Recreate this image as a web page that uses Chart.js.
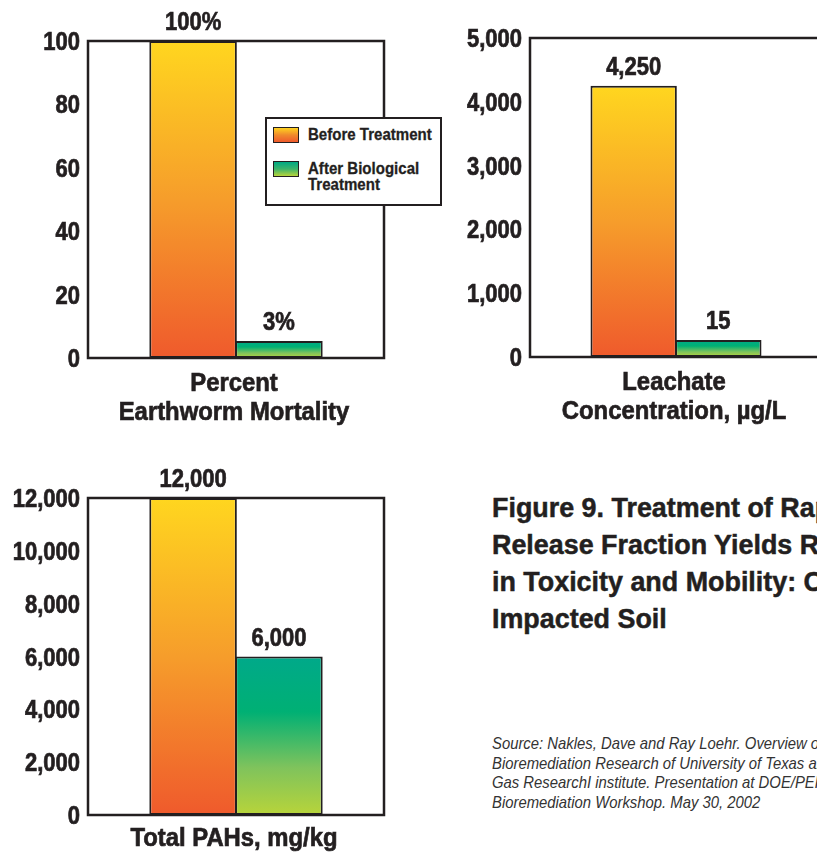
<!DOCTYPE html>
<html>
<head>
<meta charset="utf-8">
<script src="https://cdn.jsdelivr.net/npm/chart.js@4.4.1/dist/chart.umd.min.js"></script>
<style>
  html, body { margin: 0; padding: 0; background: #fff; overflow: hidden; }
  #page { position: relative; width: 817px; height: 856px; overflow: hidden; background: #fff;
    font-family: "Liberation Sans", Arial, sans-serif; color: #231f20; }
  canvas { position: absolute; }
  #legend { position: absolute; left: 265px; top: 117px; width: 173px; height: 85px; background: #fff;
    border: 2px solid #231f20; font-weight: bold; font-size: 17px; line-height: 16px; }
  .item { position: absolute; left: 6px; }
  .sw { position: absolute; left: 0; top: 0; width: 24px; height: 14px; border: 1.5px solid #231f20; }
  .item span { position: absolute; left: 35px; top: 0; white-space: nowrap; transform: scaleX(0.885); transform-origin: 0 0;
    -webkit-text-stroke: 0.3px #231f20; }
  #title { position: absolute; left: 492px; top: 489px; font-weight: bold; font-size: 28px; line-height: 37px;
    white-space: nowrap; transform: scaleX(0.96); transform-origin: 0 0; -webkit-text-stroke: 0.5px #231f20; }
  #source { position: absolute; left: 492px; top: 734px; font-style: italic; font-size: 16.5px; line-height: 19.5px;
    color: #333; white-space: nowrap; transform: scaleX(0.9); transform-origin: 0 0; }
</style>
</head>
<body>
<div id="page">
  <canvas id="c1" width="450" height="430" style="left:0;top:0"></canvas>
  <canvas id="c2" width="450" height="430" style="left:440px;top:0"></canvas>
  <canvas id="c3" width="450" height="406" style="left:0;top:450px"></canvas>
  <div id="legend">
    <div class="item" style="top:8px"><div class="sw" style="background:linear-gradient(#ffd21f,#f08a2c,#ef5a2c)"></div><span>Before Treatment</span></div>
    <div class="item" style="top:42px"><div class="sw" style="background:linear-gradient(#00a984,#3cb46a,#b8d43a)"></div><span>After Biological<br>Treatment</span></div>
  </div>
  <div id="title">Figure 9. Treatment of Rapid<br>Release Fraction Yields Reductions<br>in Toxicity and Mobility: Crude Oil<br>Impacted Soil</div>
  <div id="source">Source: Nakles, Dave and Ray Loehr. Overview of<br>Bioremediation Research of University of Texas and<br>Gas ResearchI institute. Presentation at DOE/PERF<br>Bioremediation Workshop. May 30, 2002</div>
</div>
<script>
const seriesNames = ['Before Treatment', 'After Biological Treatment'];

const mortalityCategory = [['Percent', 'Earthworm Mortality']];
const mortalityBefore = [100];
const mortalityAfter = [3];
const mortalityLabels = ['100%', '3%'];
const mortalityTicks = [0, 20, 40, 60, 80, 100];

const leachateCategory = [['Leachate', 'Concentration, \u00b5g/L']];
const leachateBefore = [4250];
const leachateAfter = [15];
const leachateLabels = ['4,250', '15'];
const leachateTicks = [0, 1000, 2000, 3000, 4000, 5000];

const pahCategory = [['Total PAHs, mg/kg']];
const pahBefore = [12000];
const pahAfter = [6000];
const pahLabels = ['12,000', '6,000'];
const pahTicks = [0, 2000, 4000, 6000, 8000, 10000, 12000];

const INK = '#231f20';
const FONT = '"Liberation Sans", Arial, sans-serif';
const MIN_BAR = 17;

// condensed look: bold Liberation Sans squeezed horizontally, lightly stroked to look heavier
function squeezeText(c, text, x, y, size, sx, align) {
  c.save();
  c.font = 'bold ' + size + 'px ' + FONT;
  c.fillStyle = INK;
  c.strokeStyle = INK;
  c.lineWidth = 0.7;
  c.textAlign = align;
  c.textBaseline = 'alphabetic';
  c.translate(x, y);
  c.scale(sx, 1);
  c.fillText(text, 0, 0);
  c.strokeText(text, 0, 0);
  c.restore();
}

function barGradient(stops) {
  return (ctx) => {
    const chart = ctx.chart;
    if (!chart.chartArea || ctx.raw === undefined) return stops[0][1];
    const y = chart.scales.y;
    const base = y.getPixelForValue(0);
    const top = Math.min(y.getPixelForValue(ctx.raw), base - MIN_BAR);
    const g = chart.ctx.createLinearGradient(0, top, 0, base);
    stops.forEach(s => g.addColorStop(s[0], s[1]));
    return g;
  };
}

const orangeStops = [[0, '#ffd61f'], [0.5, '#f69d2b'], [1, '#ef5a2c']];
const greenStops = [[0, '#00a98a'], [0.35, '#00b074'], [0.7, '#7fc35c'], [1, '#b8d43a']];

const framePlugin = {
  id: 'frame',
  afterDatasetsDraw(chart) {
    const a = chart.chartArea, c = chart.ctx;
    c.save();
    c.strokeStyle = INK;
    c.lineWidth = 2.5;
    c.strokeRect(a.left, a.top, a.right - a.left, a.bottom - a.top);
    c.restore();
  }
};

const textPlugin = {
  id: 'texts',
  afterDraw(chart, args, opts) {
    const c = chart.ctx, xs = chart.scales.x, ys = chart.scales.y;
    // y tick labels
    opts.ticks.forEach(v => {
      squeezeText(c, v.toLocaleString('en-US'), ys.right - 8, ys.getPixelForValue(v) + 9, 25, 0.88, 'right');
    });
    // category label lines
    chart.data.labels.forEach((lines, i) => {
      const cx = xs.getPixelForValue(i) - 2;
      lines.forEach((line, j) => {
        squeezeText(c, line, cx, xs.top + opts.catBase + j * 29, 26.5, 0.9, 'center');
      });
    });
    // value labels over the bars
    chart.data.datasets.forEach((ds, i) => {
      chart.getDatasetMeta(i).data.forEach(el => {
        squeezeText(c, opts.labels[i], el.x, el.y - 11, 25, 0.88, 'center');
      });
    });
  }
};

function makeChart(id, cats, before, after, labels, ticks, box) {
  new Chart(document.getElementById(id), {
    type: 'bar',
    data: {
      labels: cats,
      datasets: [
        { label: seriesNames[0], data: before, backgroundColor: barGradient(orangeStops) },
        { label: seriesNames[1], data: after, backgroundColor: barGradient(greenStops) }
      ]
    },
    options: {
      responsive: false,
      animation: false,
      devicePixelRatio: 1,
      layout: { padding: { top: box.top, right: box.right, left: 0, bottom: 0 } },
      datasets: {
        bar: {
          borderColor: INK,
          borderWidth: 2,
          borderSkipped: false,
          categoryPercentage: 0.58,
          barPercentage: 1.02,
          minBarLength: MIN_BAR
        }
      },
      plugins: {
        legend: { display: false },
        tooltip: { enabled: false },
        texts: { labels: labels, ticks: ticks, catBase: box.catBase }
      },
      scales: {
        x: {
          grid: { display: false },
          border: { display: false },
          ticks: { display: false },
          afterFit(scale) { scale.height = box.xHeight; }
        },
        y: {
          min: ticks[0],
          max: ticks[ticks.length - 1],
          grid: { display: false },
          border: { display: false },
          ticks: { display: false },
          afterFit(scale) { scale.width = box.yWidth; }
        }
      }
    },
    plugins: [framePlugin, textPlugin]
  });
}

makeChart('c1', mortalityCategory, mortalityBefore, mortalityAfter, mortalityLabels, mortalityTicks,
  { top: 41, right: 66, yWidth: 88, xHeight: 72, catBase: 33 });
makeChart('c2', leachateCategory, leachateBefore, leachateAfter, leachateLabels, leachateTicks,
  { top: 38, right: 68, yWidth: 90, xHeight: 73, catBase: 33 });
makeChart('c3', pahCategory, pahBefore, pahAfter, pahLabels, pahTicks,
  { top: 48, right: 66, yWidth: 88, xHeight: 41, catBase: 31 });
</script>
</body>
</html>
